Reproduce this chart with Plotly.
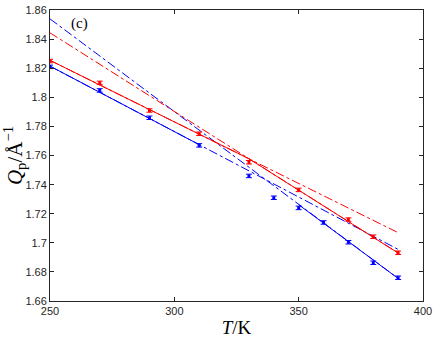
import plotly.graph_objects as go

# Data points
T_red = [250, 270, 290, 310, 330, 350, 370, 380, 390]
Q_red = [1.8250, 1.8100, 1.7910, 1.7750, 1.7554, 1.7364, 1.7160, 1.7042, 1.6932]
T_blue = [250, 270, 290, 310, 330, 340, 350, 360, 370, 380, 390]
Q_blue = [1.8210, 1.8048, 1.7860, 1.7670, 1.7460, 1.7310, 1.7240, 1.7140, 1.7004, 1.6863, 1.6760]
err_red = [0.0012] * len(T_red)
err_blue = [0.0012] * len(T_blue)

# Extrapolated fit lines (dash-dot), endpoints over the full range
T_ext = [250, 390]
red_low_ext = [1.8255, 1.7070]
red_high_ext = [1.8444, 1.6930]
blue_low_ext = [1.8215, 1.6955]
blue_high_ext = [1.8540, 1.6755]

# Fit segments (solid) within their fitting ranges
T_red_low = [250, 330]
Q_red_low = [1.8255, 1.7578]
T_red_high = [330, 390]
Q_red_high = [1.7578, 1.6930]
T_blue_low = [250, 310]
Q_blue_low = [1.8215, 1.7675]
T_blue_high = [350, 390]
Q_blue_high = [1.7262, 1.6755]

x_ticks = [250, 300, 350, 400]
y_ticks = [1.66, 1.68, 1.70, 1.72, 1.74, 1.76, 1.78, 1.80, 1.82, 1.84, 1.86]
y_ticklabels = ["1.66", "1.68", "1.7", "1.72", "1.74", "1.76", "1.78", "1.8", "1.82", "1.84", "1.86"]

RED = "#ff0000"
BLUE = "#0000ff"

fig = go.Figure()

def line(x, y, color, dash):
    fig.add_trace(go.Scatter(x=x, y=y, mode="lines",
                             line=dict(color=color, width=1, dash=dash),
                             hoverinfo="skip", showlegend=False))

line(T_ext, blue_high_ext, BLUE, "dashdot")
line(T_ext, blue_low_ext, BLUE, "dashdot")
line(T_ext, red_high_ext, RED, "dashdot")
line(T_ext, red_low_ext, RED, "dashdot")
line(T_blue_low, Q_blue_low, BLUE, "solid")
line(T_blue_high, Q_blue_high, BLUE, "solid")
line(T_red_low, Q_red_low, RED, "solid")
line(T_red_high, Q_red_high, RED, "solid")

for T, Q, e, c in [(T_blue, Q_blue, err_blue, BLUE), (T_red, Q_red, err_red, RED)]:
    fig.add_trace(go.Scatter(x=T, y=Q, mode="markers",
                             marker=dict(color=c, size=3, symbol="square"),
                             error_y=dict(type="data", array=e, visible=True,
                                          color=c, thickness=1, width=3),
                             showlegend=False))

fig.add_annotation(x=262, y=1.8505, text="(c)", showarrow=False,
                   font=dict(family="Liberation Serif, DejaVu Serif, serif", size=15, color="black"))

axis_common = dict(showline=True, linecolor="#262626", linewidth=1, mirror="ticks",
                   ticks="inside", ticklen=4, tickcolor="#262626", tickwidth=1,
                   showgrid=False, zeroline=False, ticklabeloverflow="allow",
                   tickfont=dict(family="Liberation Sans, Arial, sans-serif", size=11, color="#262626"))

fig.update_xaxes(range=[250, 400], tickvals=x_ticks,
                 title=dict(text="<i>T</i>/K", standoff=4,
                            font=dict(family="Liberation Serif, DejaVu Serif, serif", size=19, color="black")),
                 **axis_common)
fig.update_yaxes(range=[1.66, 1.8601], tickvals=y_ticks, ticktext=y_ticklabels,
                 title=dict(text="<i>Q</i><sub>p</sub>/Å<sup>−1</sup>", standoff=2,
                            font=dict(family="Liberation Serif, DejaVu Serif, serif", size=21, color="black")),
                 **axis_common)

fig.update_layout(width=436, height=339,
                  margin=dict(l=50, r=10, t=4, b=37),
                  plot_bgcolor="white", paper_bgcolor="white")

fig.write_html("out.html", config={"displayModeBar": False},
               post_script="document.body.style.margin='0';document.body.style.overflow='hidden';")
